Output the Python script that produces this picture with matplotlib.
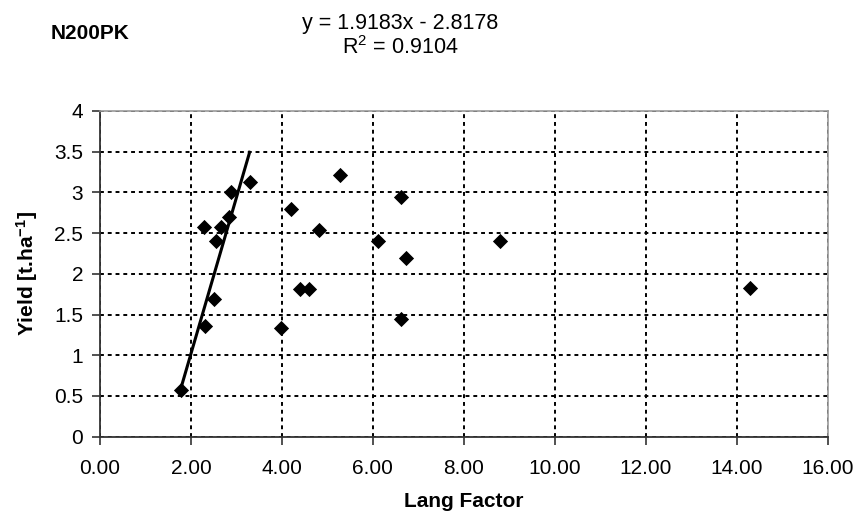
import matplotlib
matplotlib.use("Agg")
import matplotlib.pyplot as plt
import numpy as np

plt.rcParams['font.family'] = ['Liberation Sans', 'DejaVu Sans']
plt.rcParams['mathtext.fontset'] = 'custom'
plt.rcParams['mathtext.rm'] = 'Liberation Sans'
plt.rcParams['mathtext.bf'] = 'Liberation Sans:bold'
plt.rcParams['mathtext.default'] = 'regular'

# Data
lang_factor = [1.78, 2.29, 2.31, 2.54, 2.51, 2.67, 2.83, 2.88, 3.29,
               3.97, 4.19, 4.40, 4.59, 4.82, 5.27, 6.11, 6.61, 6.61, 6.72,
               8.79, 14.29]
yield_t = [0.57, 2.58, 1.36, 2.40, 1.69, 2.58, 2.70, 3.01, 3.13,
           1.33, 2.80, 1.81, 1.81, 2.54, 3.21, 2.40, 2.94, 1.45, 2.20,
           2.40, 1.83]
n_trend = 9  # trendline fitted over the first points
slope, intercept = 1.9183, -2.8178
x_ticks = [0, 2, 4, 6, 8, 10, 12, 14, 16]
y_ticks = [0, 0.5, 1, 1.5, 2, 2.5, 3, 3.5, 4]

fig = plt.figure(figsize=(8.59, 5.21), dpi=100)
ax = fig.add_axes([0.1164, 0.1618, 0.9636 - 0.1164, 0.787 - 0.1618])

ax.scatter(lang_factor, yield_t, marker='D', s=60, color='black', zorder=3,
           linewidths=0)
tx = np.array([min(lang_factor[:n_trend]), max(lang_factor[:n_trend])])
ax.plot(tx, slope * tx + intercept, color='black', linewidth=2.2, zorder=4)

ax.set_xlim(0, 16)
ax.set_ylim(0, 4)
ax.set_xticks(x_ticks)
ax.set_xticklabels([f"{v:.2f}" for v in x_ticks])
ax.set_yticks(y_ticks)
ax.set_yticklabels([f"{v:g}" for v in y_ticks])
ax.tick_params(axis='both', labelsize=15, length=6, width=1.2, color='#333333',
               direction='out', pad=6)
ax.tick_params(axis='x', pad=10)

ax.grid(True, color='black', linestyle=(0, (2, 2)), linewidth=1.4)
ax.set_axisbelow(True)
for s in ['top', 'right']:
    ax.spines[s].set_color('#999999')
    ax.spines[s].set_linewidth(1.2)
for s in ['left', 'bottom']:
    ax.spines[s].set_color('#333333')
    ax.spines[s].set_linewidth(1.3)

ax.set_xlabel('Lang Factor', fontsize=15, fontweight='bold', labelpad=10)
ax.set_ylabel('Yield [t.ha$^{\\mathbf{-1}}$]', fontsize=15, fontweight='bold',
              labelpad=10)

fig.text(0.0585, 0.935, 'N200PK', fontsize=15, fontweight='bold',
         ha='left', va='center')
fig.text(0.4655, 0.955, 'y = 1.9183x - 2.8178', fontsize=15.5, ha='center',
         va='center')
fig.text(0.4655, 0.908, 'R$^2$ = 0.9104', fontsize=15.5, ha='center',
         va='center')

fig.savefig('out.png', dpi=100)
